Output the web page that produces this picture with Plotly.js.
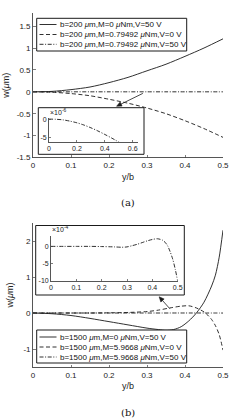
<!DOCTYPE html>
<html><head><meta charset="utf-8">
<script src="https://cdn.plot.ly/plotly-3.0.1.min.js"></script>
<style>html,body{margin:0;padding:0;background:#fff}#chart{width:247px;height:419px}</style>
</head><body><div id="chart"></div>
<script>
// ---------- Panel (a): b = 200 um ----------
const xA = [0, 0.05, 0.1, 0.15, 0.2, 0.25, 0.3, 0.35, 0.4, 0.45, 0.5];
const wA_M0_V50 = [0, 0.01, 0.05, 0.11, 0.21, 0.33, 0.48, 0.63, 0.81, 1.0, 1.21];
const wA_M_V0 = [0, -0.01, -0.04, -0.09, -0.17, -0.26, -0.37, -0.5, -0.66, -0.84, -1.04];
const wA_M_V50_e6 = [0, -0.05, -0.2, -0.55, -1.0, -1.6, -2.35, -3.2, -4.15, -5.15, -6.2]; // x 1e-6

// ---------- Panel (b): b = 1500 um ----------
const xB_solid = [0, 0.05, 0.1, 0.15, 0.2, 0.25, 0.3, 0.33, 0.35, 0.37, 0.39, 0.41, 0.43, 0.45, 0.47, 0.48, 0.49, 0.5];
const wB_M0_V50 = [0, -0.02, -0.07, -0.15, -0.24, -0.33, -0.42, -0.46, -0.48, -0.46, -0.38, -0.22, 0.0, 0.3, 0.75, 1.05, 1.55, 2.3];
const xB_dash = [0, 0.05, 0.1, 0.15, 0.2, 0.25, 0.3, 0.33, 0.36, 0.39, 0.41, 0.43, 0.45, 0.46, 0.47, 0.48, 0.49, 0.5];
const wB_M_V0 = [0, 0, 0, 0, 0.005, 0.015, 0.04, 0.08, 0.14, 0.19, 0.2, 0.14, 0.03, -0.06, -0.18, -0.35, -0.6, -1.03];
const xB_dd = [0, 0.05, 0.1, 0.15, 0.2, 0.25, 0.28, 0.3, 0.32, 0.34, 0.36, 0.38, 0.4, 0.42, 0.44, 0.45, 0.46, 0.47, 0.48, 0.49, 0.5];
const wB_M_V50_e4 = [0, 0, 0, 0, -0.05, -0.15, -0.25, -0.15, 0.2, 0.6, 1.1, 1.6, 2.0, 2.2, 1.8, 1.2, 0.2, -1.5, -3.6, -6.5, -10]; // x 1e-4

// ---------- Labels ----------
const legendA = ['b=200 <i>μ</i>m,M=0 <i>μ</i>Nm,V=50 V', 'b=200 <i>μ</i>m,M=0.79492 <i>μ</i>Nm,V=0 V', 'b=200 <i>μ</i>m,M=0.79492 <i>μ</i>Nm,V=50 V'];
const legendB = ['b=1500 <i>μ</i>m,M=0 <i>μ</i>Nm,V=50 V', 'b=1500 <i>μ</i>m,M=5.9668 <i>μ</i>Nm,V=0 V', 'b=1500 <i>μ</i>m,M=5.9668 <i>μ</i>Nm,V=50 V'];
const xTicks = [0, 0.1, 0.2, 0.3, 0.4, 0.5];
const xTickText = ['0', '0.1', '0.2', '0.3', '0.4', '0.5'];
const yTicksA = [-1.5, -1, -0.5, 0, 0.5, 1, 1.5];
const yTickTextA = ['-1.5', '-1', '-0.5', '0', '0.5', '1', '1.5'];
const yTicksB = [-1, 0, 1, 2];
const yTickTextB = ['-1', '0', '1', '2'];
const insetAxTicks = [0, 0.2, 0.4, 0.6];
const insetAxText = ['0', '0.2', '0.4', '0.6'];
const insetAyTicks = [-5, 0];
const insetAyText = ['-5', '0'];
const insetBxTicks = [0, 0.1, 0.2, 0.3, 0.4, 0.5];
const insetBxText = ['0', '0.1', '0.2', '0.3', '0.4', '0.5'];
const insetByTicks = [-10, -5, 0];
const insetByText = ['-10', '-5', '0'];

// arrow end points (data units of the main panels): [tailX, tailY, headX, headY]
const arrowA = [0.289, -0.036, 0.22, -0.33];
const arrowB = [0.36, 0.12, 0.332, 0.45];

const W = 247, H = 419;
const X = p => p / W, Y = p => 1 - p / H;
const LC = '#1a1a1a';
const lineW = 0.9;
const DASH = '4px,2.5px';
const DASHDOT = '4px,1.6px,1px,1.6px';
const dashes = ['solid', DASH, DASHDOT];

function tr(x, y, dash, xa, ya) {
  return {x: x, y: y, xaxis: xa, yaxis: ya, type: 'scatter', mode: 'lines',
    line: {color: LC, width: lineW, dash: dash, shape: 'spline', smoothing: 0.8}, hoverinfo: 'skip'};
}
const data = [
  tr(xA, wA_M0_V50, 'solid', 'x', 'y'),
  tr(xA, wA_M_V0, DASH, 'x', 'y'),
  tr(xA, wA_M_V50_e6.map(v => v * 1e-6), DASHDOT, 'x', 'y'),
  tr(xB_solid, wB_M0_V50, 'solid', 'x2', 'y2'),
  tr(xB_dash, wB_M_V0, DASH, 'x2', 'y2'),
  tr(xB_dd, wB_M_V50_e4.map(v => v * 1e-4), DASHDOT, 'x2', 'y2'),
  tr(xA, wA_M_V50_e6, DASHDOT, 'x3', 'y3'),
  tr(xB_dd, wB_M_V50_e4, DASHDOT, 'x4', 'y4')
];

const font = 'Liberation Sans, Arial, sans-serif';
const ax = {showline: true, linecolor: '#444', linewidth: 0.9, ticks: 'inside', ticklen: 2.5, tickwidth: 0.7,
  tickcolor: '#444', showgrid: false, zeroline: false, fixedrange: true,
  tickfont: {family: font, size: 8, color: '#222'}};
const inax = Object.assign({}, ax, {ticklen: 2, tickfont: {family: font, size: 7, color: '#222'}});
const titleFont = {family: font, size: 9, color: '#222'};

// pixel geometry of main panels (used for the arrows)
const panA = {l: 33, r: 223, t: 13, b: 157.5, x0: 0, x1: 0.5, y0: -1.5, y1: 1.8};
const panB = {l: 33, r: 223, t: 223, b: 367, x0: 0, x1: 0.5, y0: -1.5, y1: 2.5};

const layout = {
  width: W, height: H, margin: {l: 0, r: 0, t: 0, b: 0},
  paper_bgcolor: '#fff', plot_bgcolor: 'rgba(0,0,0,0)', showlegend: false,
  font: {family: font, size: 8, color: '#222'},
  xaxis: Object.assign({}, ax, {domain: [X(panA.l), X(panA.r)], range: [panA.x0, panA.x1], anchor: 'y',
    tickvals: xTicks, ticktext: xTickText, title: {text: 'y/b', font: titleFont, standoff: 4}}),
  yaxis: Object.assign({}, ax, {domain: [Y(panA.b), Y(panA.t)], range: [panA.y0, panA.y1], anchor: 'x',
    tickvals: yTicksA, ticktext: yTickTextA, title: {text: 'w(<i>μ</i>m)', font: titleFont, standoff: 5}}),
  xaxis2: Object.assign({}, ax, {domain: [X(panB.l), X(panB.r)], range: [panB.x0, panB.x1], anchor: 'y2',
    tickvals: xTicks, ticktext: xTickText, title: {text: 'y/b', font: titleFont, standoff: 4}}),
  yaxis2: Object.assign({}, ax, {domain: [Y(panB.b), Y(panB.t)], range: [panB.y0, panB.y1], anchor: 'x2',
    tickvals: yTicksB, ticktext: yTickTextB, title: {text: 'w(<i>μ</i>m)', font: titleFont, standoff: 8}}),
  xaxis3: Object.assign({}, inax, {domain: [X(49), X(138.3)], range: [0, 0.64], anchor: 'y3',
    tickvals: insetAxTicks, ticktext: insetAxText}),
  yaxis3: Object.assign({}, inax, {domain: [Y(142), Y(118)], range: [-6.2, 0.3], anchor: 'x3',
    tickvals: insetAyTicks, ticktext: insetAyText}),
  xaxis4: Object.assign({}, inax, {domain: [X(51), X(177.7)], range: [0, 0.5], anchor: 'y4',
    tickvals: insetBxTicks, ticktext: insetBxText}),
  yaxis4: Object.assign({}, inax, {domain: [Y(281), Y(236)], range: [-10, 3], anchor: 'x4',
    tickvals: insetByTicks, ticktext: insetByText}),
  shapes: [],
  annotations: []
};

// inset frames
layout.shapes.push({type: 'rect', xref: 'paper', yref: 'paper', x0: X(38.3), x1: X(144), y0: Y(154.3), y1: Y(107.7),
  line: {color: LC, width: 1}, fillcolor: '#fff', layer: 'below'});
layout.shapes.push({type: 'rect', xref: 'paper', yref: 'paper', x0: X(35.7), x1: X(184.3), y0: Y(295), y1: Y(225.5),
  line: {color: LC, width: 1}, fillcolor: '#fff', layer: 'below'});

// manual legends
function addLegend(labels, top, bottom, rows) {
  layout.shapes.push({type: 'rect', xref: 'paper', yref: 'paper', x0: X(36.7), x1: X(186.7), y0: Y(bottom), y1: Y(top),
    line: {color: LC, width: 1}, fillcolor: '#fff', layer: 'above'});
  labels.forEach((t, i) => {
    layout.shapes.push({type: 'line', xref: 'paper', yref: 'paper', x0: X(39.5), x1: X(56.5), y0: Y(rows[i]), y1: Y(rows[i]),
      line: {color: LC, width: lineW, dash: dashes[i]}, layer: 'above'});
    layout.annotations.push({xref: 'paper', yref: 'paper', x: X(57.5), y: Y(rows[i]), xanchor: 'left', yanchor: 'middle',
      text: t, showarrow: false, font: {family: font, size: 8, color: '#111'}});
  });
}
addLegend(legendA, 18.3, 51, [24.5, 34.5, 44.3]);
addLegend(legendB, 330, 363, [337, 347, 357]);

// exponent labels
layout.annotations.push({xref: 'paper', yref: 'paper', x: X(48), y: Y(117.5), xanchor: 'left', yanchor: 'bottom',
  text: '×10<sup>-6</sup>', showarrow: false, font: {family: font, size: 7, color: '#222'}});
layout.annotations.push({xref: 'paper', yref: 'paper', x: X(50), y: Y(235.5), xanchor: 'left', yanchor: 'bottom',
  text: '×10<sup>-4</sup>', showarrow: false, font: {family: font, size: 7, color: '#222'}});

// arrows drawn as shapes (line + filled head)
function addArrow(a, p) {
  const px = v => p.l + (v - p.x0) / (p.x1 - p.x0) * (p.r - p.l);
  const py = v => p.b - (v - p.y0) / (p.y1 - p.y0) * (p.b - p.t);
  const tx = px(a[0]), ty = py(a[1]), hx = px(a[2]), hy = py(a[3]);
  const dx = hx - tx, dy = hy - ty, len = Math.hypot(dx, dy);
  const ux = dx / len, uy = dy / len;
  const hl = 5, hw = 2.2;
  const bx = hx - ux * hl, by = hy - uy * hl;
  layout.shapes.push({type: 'line', xref: 'paper', yref: 'paper', x0: X(tx), y0: Y(ty), x1: X(bx), y1: Y(by),
    line: {color: LC, width: 0.8}, layer: 'above'});
  const p1 = [bx - uy * hw, by + ux * hw], p2 = [bx + uy * hw, by - ux * hw];
  layout.shapes.push({type: 'path', xref: 'paper', yref: 'paper',
    path: `M ${X(hx)} ${Y(hy)} L ${X(p1[0])} ${Y(p1[1])} L ${X(p2[0])} ${Y(p2[1])} Z`,
    line: {color: LC, width: 0.6}, fillcolor: LC, layer: 'above'});
}
addArrow(arrowA, panA);
addArrow(arrowB, panB);

// panel captions
layout.annotations.push({xref: 'paper', yref: 'paper', x: X(128), y: Y(202), xanchor: 'center', yanchor: 'middle',
  text: '(a)', showarrow: false, font: {family: 'DejaVu Serif, serif', size: 10, color: '#111'}});
layout.annotations.push({xref: 'paper', yref: 'paper', x: X(128), y: Y(412), xanchor: 'center', yanchor: 'middle',
  text: '(b)', showarrow: false, font: {family: 'DejaVu Serif, serif', size: 10, color: '#111'}});

Plotly.newPlot('chart', data, layout, {staticPlot: true, displayModeBar: false});
</script>
</body></html>
